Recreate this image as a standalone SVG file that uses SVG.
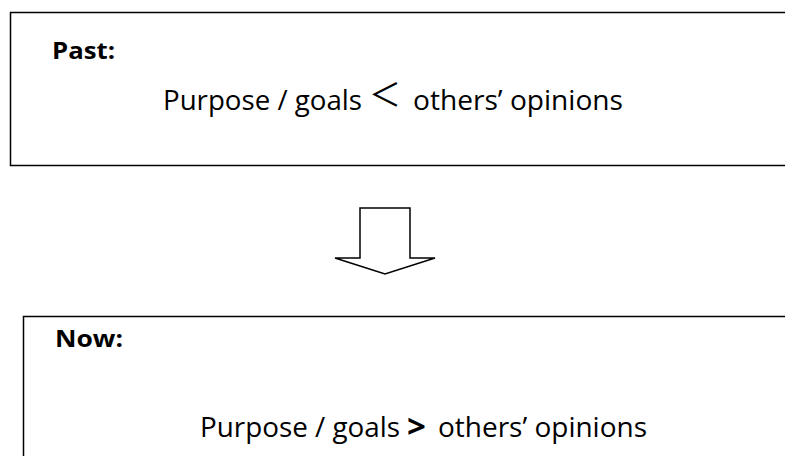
<svg xmlns="http://www.w3.org/2000/svg" width="785" height="456" viewBox="0 0 785 456">
<style>
.box{fill:#fff;stroke:#000;stroke-width:1.5}
.lbl{font-family:"Open Sans","Liberation Sans",sans-serif;font-weight:bold;font-size:23.5px;fill:#000}
.t{font-family:"Open Sans","Liberation Sans",sans-serif;font-size:27px;fill:#000}
.sym{font-family:"Noto Sans CJK JP","Noto Sans CJK SC",sans-serif;font-size:32px;fill:#000}
.gt{font-family:"Open Sans","Liberation Sans",sans-serif;font-weight:bold;font-size:33px;fill:#000}
.arrow{fill:#fff;stroke:#000;stroke-width:1.5;stroke-linejoin:miter}
</style>
<rect width="785" height="456" fill="#fff"/>
<g id="past">
<rect class="box" x="10.5" y="12.5" width="800" height="153"/>
<text class="lbl" x="52" y="59" textLength="63" lengthAdjust="spacingAndGlyphs">Past:</text>
<text class="t" x="163" y="110" textLength="199" lengthAdjust="spacingAndGlyphs">Purpose / goals</text>
<text class="sym" x="369" y="106">＜</text>
<text class="t" x="413" y="110" textLength="210" lengthAdjust="spacingAndGlyphs">others’ opinions</text>
</g>
<g id="connectors">
<polygon class="arrow" points="360,208 410,208 410,258 435,258 385,274 335,258 360,258"/>
</g>
<g id="now">
<rect class="box" x="23.5" y="316.5" width="800" height="200"/>
<text class="lbl" x="55" y="347" textLength="68" lengthAdjust="spacingAndGlyphs">Now:</text>
<text class="t" x="200" y="437" textLength="200" lengthAdjust="spacingAndGlyphs">Purpose / goals</text>
<text class="gt" x="407" y="438">&gt;</text>
<text class="t" x="438" y="437" textLength="209" lengthAdjust="spacingAndGlyphs">others’ opinions</text>
</g>
</svg>
